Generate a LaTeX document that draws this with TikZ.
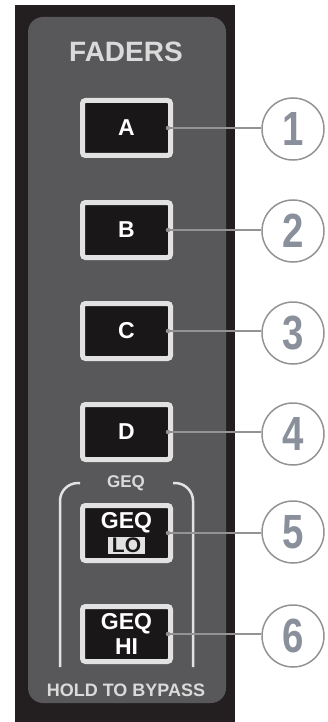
\documentclass[tikz,border=0pt]{standalone}
\usepackage{fontspec}
\setmainfont{Liberation Sans}
\newfontfamily\numfont[FakeStretch=0.8]{Liberation Sans}
\usetikzlibrary{positioning}
\definecolor{panel}{HTML}{231F20}
\definecolor{plate}{HTML}{58585A}
\definecolor{keyblack}{HTML}{1A1718}
\definecolor{rimgrey}{HTML}{E2E2E2}
\definecolor{labelgrey}{HTML}{DADADA}
\definecolor{ringgrey}{HTML}{939393}
\definecolor{numgrey}{HTML}{8A909B}
\tikzset{
	btn/.style={draw=rimgrey, line width=5pt, fill=keyblack, rounded corners=3pt,
		minimum width=88pt, minimum height=55pt, inner sep=0pt, text=white, align=center},
	callout/.style={circle, draw=ringgrey, line width=1.5pt, minimum size=62pt, inner sep=0pt,
		text=numgrey, font=\numfont\bfseries\fontsize{48}{48}\selectfont},
	pin/.style={circle, fill=ringgrey, inner sep=0pt, minimum size=4.5pt},
	lead/.style={draw=ringgrey, line width=1.5pt}
}

\begin{document}
\begin{tikzpicture}[x=1pt,y=-1pt]
		\useasboundingbox (0,0) rectangle (328,722);
		\fill[panel] (15,5) rectangle (235,722);
		\fill[plate, rounded corners=15pt] (28,17) rectangle (226,703);
		\node[text=labelgrey, font=\bfseries\fontsize{28}{28}\selectfont] (title) at (126,52) {FADERS};
	
		\foreach \n/\t/\y in {1/A/128, 2/B/230, 3/C/331, 4/D/432}
			\node[btn, font=\bfseries\fontsize{23}{23}\selectfont] (key\n) at (126.5,\y) {\t};
	
		\node[text=labelgrey, font=\bfseries\fontsize{17}{17}\selectfont] (geq) at (126,483) {GEQ};
		\draw[rimgrey, line width=2.5pt, rounded corners=18pt] (80,483) -| (60,667);
		\draw[rimgrey, line width=2.5pt, rounded corners=18pt] (173,483) -| (193,667);
	
		\node[btn, font=\bfseries\fontsize{23}{24}\selectfont] (key5) at (126.5,533)
			{GEQ\\{\fontsize{21}{21}\selectfont\fboxsep=0.8pt\colorbox{rimgrey}{\color{keyblack}\,LO\,}}};
		\node[btn, font=\bfseries\fontsize{23}{25}\selectfont] (key6) at (126.5,634) {GEQ\\HI};
	
		\node[text=labelgrey, font=\bfseries\fontsize{18}{18}\selectfont] (hold) at (126,690) {HOLD TO BYPASS};
	
		\foreach \n/\y in {1/129, 2/231, 3/333, 4/434, 5/532, 6/636} {
			\node[pin] (pin\n) at ([xshift=-5pt]key\n.east) {};
			\node[callout] (num\n) at (293,\y) {\n};
			\draw[lead] (pin\n) -- (pin\n -| num\n.west);
		}
	\end{tikzpicture}
\end{document}
